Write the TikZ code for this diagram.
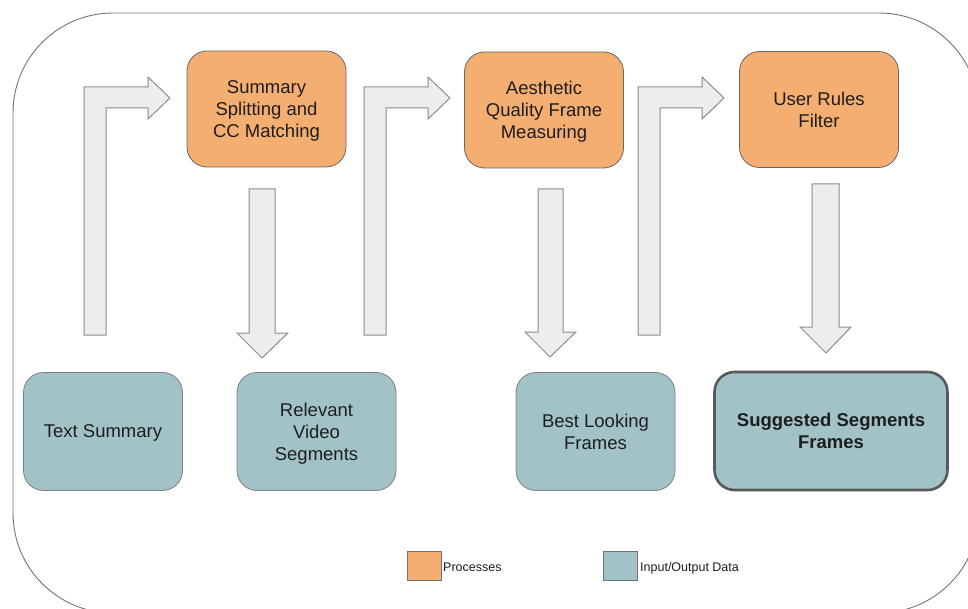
\documentclass[tikz,border=0pt]{standalone}
\usepackage{fontspec}
\setmainfont{Liberation Sans}
\begin{document}
\definecolor{procfill}{HTML}{F4AE72}
\definecolor{datafill}{HTML}{A1C3C7}
\definecolor{arrowfill}{HTML}{EDEDED}
\definecolor{arrowline}{HTML}{8C8C8C}
\definecolor{txt}{HTML}{1E1E1E}
\begin{tikzpicture}[x=1pt,y=-1pt,
  every node/.style={text=txt, font=\fontsize{18.5}{22}\selectfont, align=center, inner sep=0pt,
                     text depth=0pt},
  procbox/.style={draw=black!60, line width=0.8pt, fill=procfill, rounded corners=20pt,
                  minimum width=159pt, minimum height=116pt},
  databox/.style={draw=black!50, line width=0.8pt, fill=datafill, rounded corners=20pt,
                  minimum width=159pt, minimum height=118pt},
  finalbox/.style={draw=black!65, line width=2.6pt, fill=datafill, rounded corners=20pt,
                  minimum width=233pt, minimum height=118pt,
                  font=\bfseries\fontsize{18.5}{22}\selectfont},
  blockarrow/.style={draw=arrowline, line width=1pt, fill=arrowfill, line join=miter},
  legendbox/.style={draw=black!55, line width=1pt, minimum width=34pt, minimum height=29pt},
  legendtext/.style={font=\fontsize{12.5}{14}\selectfont, anchor=west}
]
\useasboundingbox (0,0) rectangle (968,609);
\clip (0,0) rectangle (968,609);

% outer frame
\draw[black!55, line width=0.9pt, rounded corners=100pt] (13,13) rectangle (979,613);

% process steps
\node[procbox] (split) at (266.5,109) {Summary\\Splitting and\\CC Matching};
\node[procbox] (aesth) at (544,110) {Aesthetic\\Quality Frame\\Measuring};
\node[procbox] (rules) at (819,109.5) {User Rules\\Filter};

% input / output data
\node[databox] (summary) at (103,431.5) {Text Summary};
\node[databox] (segments) at (316.5,431.5) {Relevant\\Video\\Segments};
\node[databox] (frames) at (595.5,431.5) {Best Looking\\Frames};
\node[finalbox] (suggested) at (831,431) {Suggested Segments\\Frames};

% bent arrows: up from the data, then right into the next step
\foreach \dx in {0,280,554} {
  \draw[blockarrow, xshift=\dx pt]
    (84,335) -- (84,87) -- (148,87) -- (148,77) -- (170,98) -- (148,119)
    -- (148,108) -- (106,108) -- (106,335) -- cycle;
}

% down arrows: from each step to its output
\draw[blockarrow] (249,189) -- (275,189) -- (275,333) -- (288,333) -- (262,358)
  -- (237,333) -- (249,333) -- cycle;
\draw[blockarrow] (538,189) -- (563,189) -- (563,332) -- (576,332) -- (550,357)
  -- (525,332) -- (538,332) -- cycle;
\draw[blockarrow] (812,184) -- (839,184) -- (839,327) -- (851,327) -- (826,353)
  -- (800,327) -- (812,327) -- cycle;

% legend
\node[legendbox, fill=procfill] (legproc) at (424,565.5) {};
\node[legendtext] (legproctext) at (443,567) {Processes};
\node[legendbox, fill=datafill] (legdata) at (620.5,565.5) {};
\node[legendtext] (legdatatext) at (640,567) {Input/Output Data};
\end{tikzpicture}
\end{document}
